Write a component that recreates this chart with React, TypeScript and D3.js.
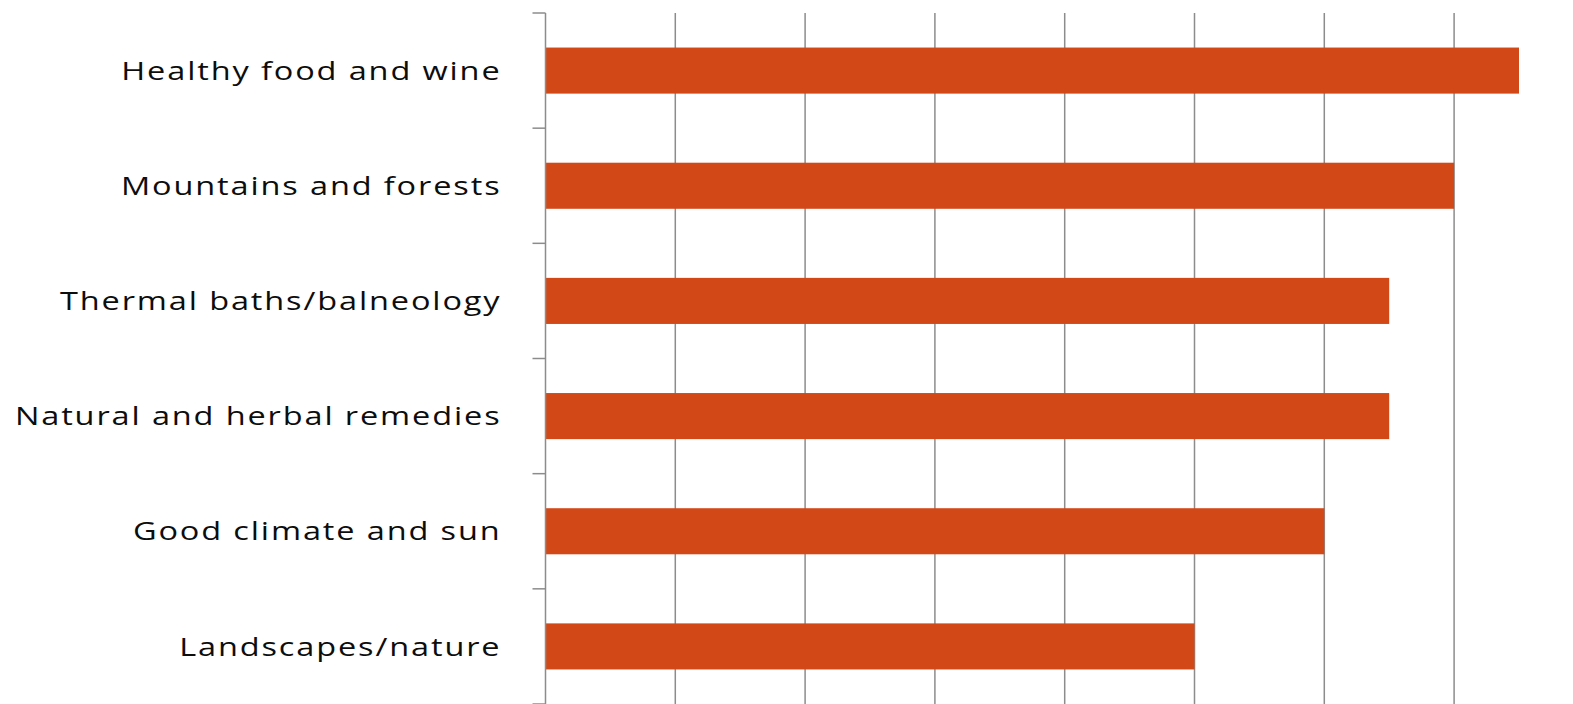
import React, { useEffect, useRef } from 'react';
import * as d3 from 'd3';

const categories = [
  'Healthy food and wine',
  'Mountains and forests',
  'Thermal baths/balneology',
  'Natural and herbal remedies',
  'Good climate and sun',
  'Landscapes/nature',
];
const values = [7.5, 7, 6.5, 6.5, 6, 5];
const gridTicks = [1, 2, 3, 4, 5, 6, 7, 8];

const W = 1573;
const H = 704;

const App: React.FC = () => {
  const svgRef = useRef<SVGSVGElement>(null);

  useEffect(() => {
    if (!svgRef.current) return;
    const svg = d3.select(svgRef.current);
    svg.selectAll('*').remove();

    const left = 545.5;
    const top = 13;
    const bottom = 704;

    const x = d3.scaleLinear().domain([0, 8]).range([left, left + 8 * 129.8]);
    const y = d3.scaleBand<string>()
      .domain(categories)
      .range([top, bottom])
      .paddingInner(0.6)
      .paddingOuter(0.3);

    // vertical gridlines
    svg.append('g')
      .selectAll('line')
      .data(gridTicks)
      .enter()
      .append('line')
      .attr('x1', (d) => x(d))
      .attr('x2', (d) => x(d))
      .attr('y1', top)
      .attr('y2', bottom)
      .attr('stroke', '#8c8c8c')
      .attr('stroke-width', 1.5);

    // bars
    svg.append('g')
      .selectAll('rect')
      .data(categories)
      .enter()
      .append('rect')
      .attr('x', x(0))
      .attr('y', (d) => y(d) as number)
      .attr('width', (_d, i) => x(values[i]) - x(0))
      .attr('height', y.bandwidth())
      .attr('fill', '#d34817');

    // category axis with ticks on band boundaries
    const step = y.step();
    const start = (y(categories[0]) as number) - step * y.paddingInner() / 2;
    const boundaries = d3.range(categories.length + 1).map((i) => start + i * step);

    const axis = svg.append('g');
    axis.append('line')
      .attr('x1', left)
      .attr('x2', left)
      .attr('y1', top)
      .attr('y2', bottom)
      .attr('stroke', '#8c8c8c')
      .attr('stroke-width', 1.5);

    axis.selectAll('line.tick')
      .data(boundaries)
      .enter()
      .append('line')
      .attr('class', 'tick')
      .attr('x1', left - 13)
      .attr('x2', left)
      .attr('y1', (d) => d)
      .attr('y2', (d) => d)
      .attr('stroke', '#8c8c8c')
      .attr('stroke-width', 1.5);

    // labels are drawn wide, like the stretched source font
    axis.selectAll('text')
      .data(categories)
      .enter()
      .append('text')
      .attr('transform', (d) => `translate(501.5,${(y(d) as number) + y.bandwidth() / 2}) scale(1.25,1)`)
      .attr('dy', '0.35em')
      .attr('text-anchor', 'end')
      .attr('font-family', '"Open Sans", sans-serif')
      .style('font-size', '26px')
      .style('letter-spacing', '1.5px')
      .style('fill', '#0d0d0d')
      .text((d) => d);
  }, []);

  return (
    <svg
      ref={svgRef}
      width={W}
      height={H}
      style={{ position: 'absolute', left: 0, top: 0, display: 'block', background: '#fff' }}
    />
  );
};

export default App;
